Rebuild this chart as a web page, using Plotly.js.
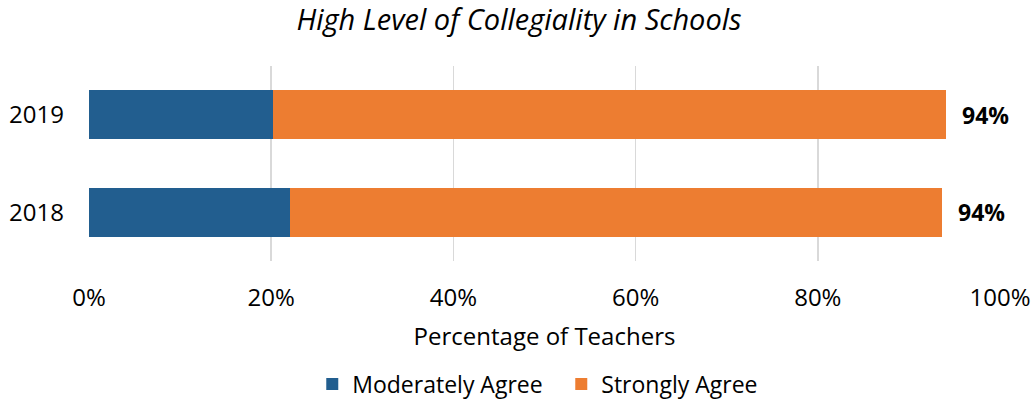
<!DOCTYPE html>
<html>
<head>
<meta charset="utf-8">
<script src="https://cdn.plot.ly/plotly-3.0.1.min.js"></script>
<style>html,body{margin:0;padding:0;background:#fff;}#chart{width:1034px;height:400px;}</style>
</head>
<body>
<div id="chart"></div>
<script>
const years = ["2018", "2019"];
const moderatelyAgree = [22.1, 20.2];
const stronglyAgree = [71.5, 73.9];
const xTicks = [0, 20, 40, 60, 80, 100];
const xTickLabels = ["0%", "20%", "40%", "60%", "80%", "100%"];

const FONT = "Open Sans, sans-serif";
const totals = years.map((y, i) => moderatelyAgree[i] + stronglyAgree[i]);

const traces = [
  {type: "bar", orientation: "h", name: "Moderately Agree", y: years, x: moderatelyAgree,
   marker: {color: "#225E8F"}, hoverinfo: "x+name"},
  {type: "bar", orientation: "h", name: "Strongly Agree", y: years, x: stronglyAgree,
   marker: {color: "#ED7D31"}, hoverinfo: "x+name"}
];

const annotations = years.map((y, i) => ({
  x: totals[i], y: y, xref: "x", yref: "y", text: "<b>" + Math.round(totals[i]) + "%</b>",
  showarrow: false, xanchor: "left", xshift: 14, font: {family: FONT, size: 23, color: "#000"}
}));

const layout = {
  width: 1034, height: 400,
  margin: {l: 89, r: 34, t: 66, b: 139},
  paper_bgcolor: "#fff", plot_bgcolor: "#fff",
  barmode: "stack", bargap: 0.5,
  title: {text: "<i>High Level of Collegiality in Schools</i>", x: 0.502, xanchor: "center", y: 0.95, yanchor: "middle",
          xref: "container", font: {family: FONT, size: 29, color: "#000"}},
  xaxis: {range: [0, 100], tickvals: xTicks, ticktext: xTickLabels, showgrid: true, gridcolor: "#d9d9d9", gridwidth: 1.5,
          zeroline: false, showline: false, ticks: "", ticklabelstandoff: 20, tickfont: {family: FONT, size: 24, color: "#000"},
          title: {text: "Percentage of Teachers", font: {family: FONT, size: 24, color: "#000"}, standoff: 16},
          fixedrange: true},
  yaxis: {categoryorder: "array", categoryarray: years, showgrid: false, zeroline: false, showline: false,
          ticks: "", ticklabelstandoff: 24, tickfont: {family: FONT, size: 24, color: "#000"}, fixedrange: true},
  legend: {orientation: "h", x: 0.302, xanchor: "left", xref: "container", y: 0.04, yref: "container", yanchor: "middle",
           font: {family: FONT, size: 23, color: "#000"}, traceorder: "normal", itemwidth: 30,
           entrywidth: 204, entrywidthmode: "pixels"},
  annotations: annotations,
  showlegend: true
};

Plotly.newPlot("chart", traces, layout, {displayModeBar: false, staticPlot: true});
</script>
</body>
</html>
